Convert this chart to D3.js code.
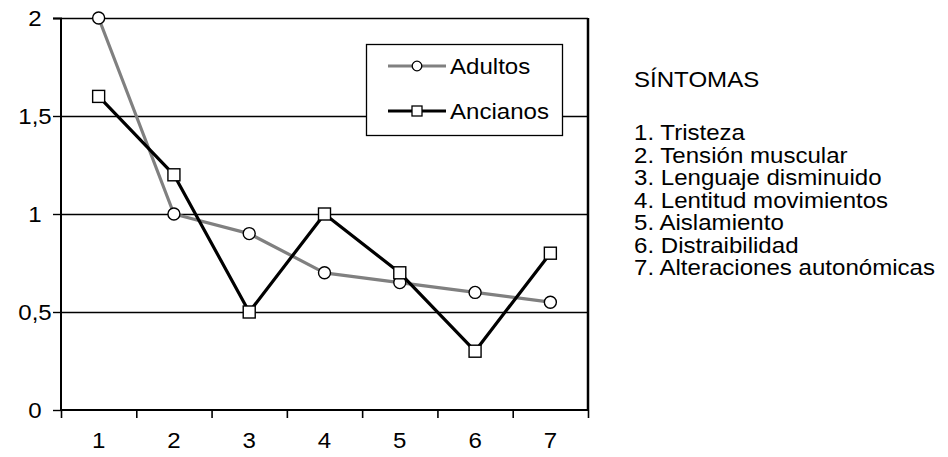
<!DOCTYPE html>
<html>
<head>
<meta charset="utf-8">
<script src="https://cdn.jsdelivr.net/npm/d3@7"></script>
<style>
  html, body { margin: 0; padding: 0; background: #fff; }
  svg { display: block; }
  svg text { font-family: "Liberation Sans", Arial, sans-serif; }
</style>
</head>
<body>
<svg id="chart" width="948" height="457"></svg>
<script>
// Symptom scores by age group
const categories = ["1", "2", "3", "4", "5", "6", "7"];
const adultos = [2, 1, 0.9, 0.7, 0.65, 0.6, 0.55];
const ancianos = [1.6, 1.2, 0.5, 1.0, 0.7, 0.3, 0.8];
const yTicks = [0, 0.5, 1, 1.5, 2];
const seriesNames = ["Adultos", "Ancianos"];
const listTitle = "SÍNTOMAS";
const symptoms = [
  "1. Tristeza",
  "2. Tensión muscular",
  "3. Lenguaje disminuido",
  "4. Lentitud movimientos",
  "5. Aislamiento",
  "6. Distraibilidad",
  "7. Alteraciones autonómicas"
];

const svg = d3.select("#chart");
const plot = { left: 61, right: 588, top: 18, bottom: 410 };
const fontSize = 21.5;
const stretch = 1.12;

const x = d3.scaleBand().domain(categories).range([plot.left, plot.right]);
const xEdges = d3.scaleLinear().domain([0, categories.length]).range([plot.left, plot.right]);
const y = d3.scaleLinear().domain([0, 2]).range([plot.bottom, plot.top]);
const cx = c => x(c) + x.bandwidth() / 2;

const es = d3.formatLocale({ decimal: ",", thousands: ".", grouping: [3], currency: ["", " €"] });
const fmt = es.format(".2~f");

// helper: place a horizontally widened text label
function label(parent, tx, ty, str, anchor) {
  parent.append("text")
    .attr("transform", `translate(${tx},${ty}) scale(${stretch},1)`)
    .attr("text-anchor", anchor || "start")
    .attr("font-size", fontSize)
    .attr("fill", "#000")
    .text(str);
}

// horizontal gridlines
svg.append("g")
  .selectAll("line")
  .data(yTicks.filter(v => v > 0))
  .join("line")
  .attr("x1", plot.left).attr("x2", plot.right)
  .attr("y1", d => y(d) + 0.5).attr("y2", d => y(d) + 0.5)
  .attr("stroke", "#000").attr("stroke-width", 1.4);

// right border of the plot area
svg.append("line")
  .attr("x1", plot.right).attr("x2", plot.right)
  .attr("y1", y(2)).attr("y2", y(0))
  .attr("stroke", "#000").attr("stroke-width", 2.5);

// y axis
const yAxis = svg.append("g")
  .attr("transform", `translate(${plot.left},0)`)
  .call(d3.axisLeft(y).tickValues(yTicks).tickSize(8).tickFormat(""));
yAxis.select(".domain").attr("stroke-width", 2).attr("d", `M-8,${y(2) + 0.5}H0V${y(0)}`);
yAxis.selectAll(".tick line").attr("stroke-width", 1.4);
const yLab = svg.append("g");
yTicks.forEach(v => label(yLab, 35, y(v) + 7.5, fmt(v), "middle"));

// x axis: tick marks at category boundaries
const xAxis = svg.append("g")
  .attr("transform", `translate(0,${plot.bottom})`)
  .call(d3.axisBottom(xEdges).tickValues(d3.range(categories.length + 1)).tickSize(8).tickFormat(""));
xAxis.select(".domain").attr("stroke-width", 2).attr("d", `M${plot.left},0H${plot.right}`);
xAxis.selectAll(".tick line").attr("stroke-width", 1.6);
const xLab = svg.append("g");
categories.forEach(c => label(xLab, cx(c), 448, c, "middle"));

// series lines
const line = d3.line().x((d, i) => cx(categories[i])).y(d => y(d));
svg.append("path").datum(adultos)
  .attr("d", line).attr("fill", "none")
  .attr("stroke", "#808080").attr("stroke-width", 3.2).attr("stroke-linejoin", "round");
svg.append("path").datum(ancianos)
  .attr("d", line).attr("fill", "none")
  .attr("stroke", "#000").attr("stroke-width", 3.2).attr("stroke-linejoin", "round");

// markers
svg.append("g").selectAll("circle").data(adultos).join("circle")
  .attr("cx", (d, i) => cx(categories[i])).attr("cy", d => y(d)).attr("r", 6)
  .attr("fill", "#fff").attr("stroke", "#000").attr("stroke-width", 1.4);
const sq = 12;
svg.append("g").selectAll("rect").data(ancianos).join("rect")
  .attr("x", (d, i) => cx(categories[i]) - sq / 2).attr("y", d => y(d) - sq / 2)
  .attr("width", sq).attr("height", sq)
  .attr("fill", "#fff").attr("stroke", "#000").attr("stroke-width", 1.4);

// legend
const lg = svg.append("g");
lg.append("rect").attr("x", 366.5).attr("y", 44.5).attr("width", 196).attr("height", 91)
  .attr("fill", "#fff").attr("stroke", "#000").attr("stroke-width", 1.3);
const rows = [66, 111];
seriesNames.forEach((name, i) => {
  const ry = rows[i];
  lg.append("line").attr("x1", 388).attr("x2", 446).attr("y1", ry).attr("y2", ry)
    .attr("stroke", i === 0 ? "#808080" : "#000").attr("stroke-width", 3.2);
  if (i === 0) {
    lg.append("circle").attr("cx", 417).attr("cy", ry).attr("r", 4.8)
      .attr("fill", "#fff").attr("stroke", "#000").attr("stroke-width", 1.3);
  } else {
    lg.append("rect").attr("x", 417 - 5).attr("y", ry - 5).attr("width", 10).attr("height", 10)
      .attr("fill", "#fff").attr("stroke", "#000").attr("stroke-width", 1.3);
  }
  label(lg, 450, ry + 7.5, name, "start");
});

// symptom list
const side = svg.append("g");
label(side, 634, 87, listTitle, "start");
symptoms.forEach((s, i) => label(side, 634, 140 + i * 22.5, s, "start"));
</script>
</body>
</html>
